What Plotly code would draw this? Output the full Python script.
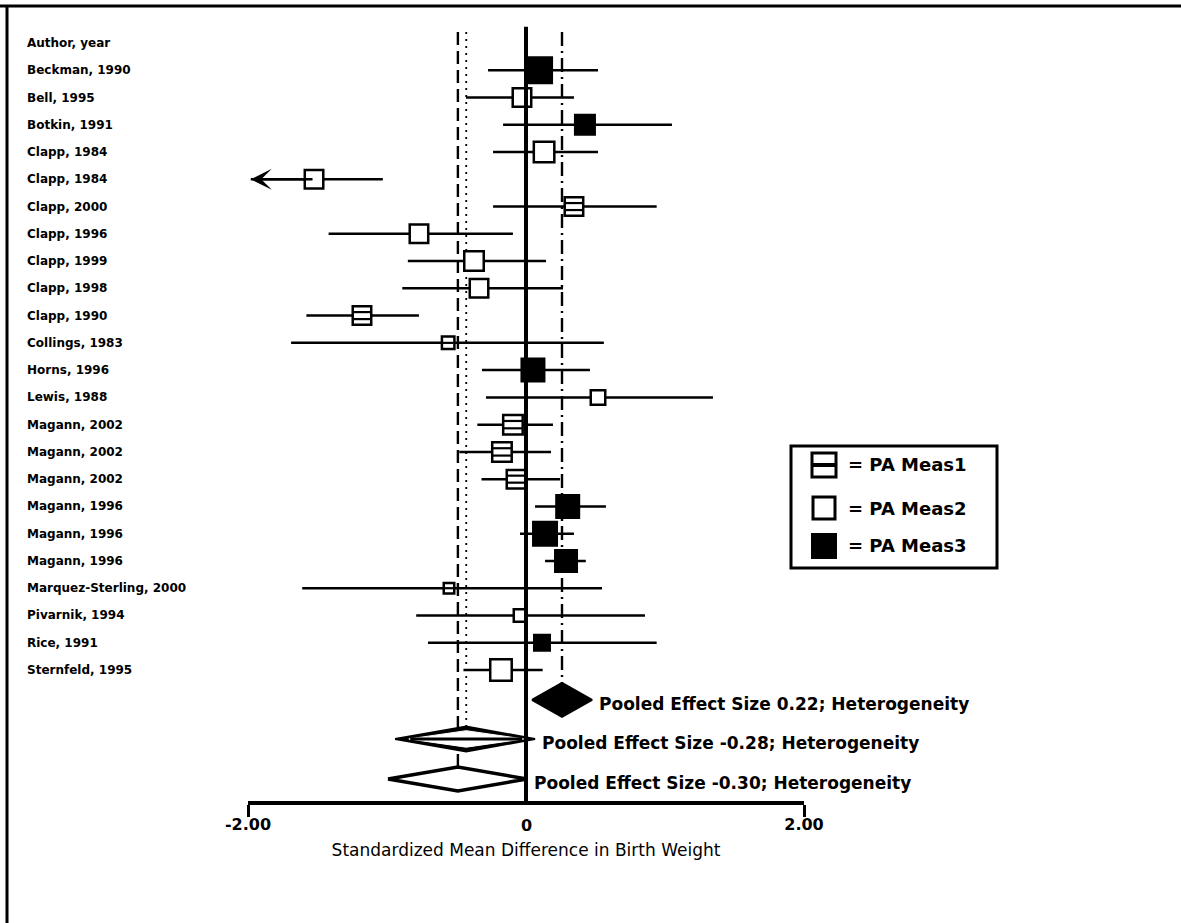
import plotly.graph_objects as go

# ---------------- data ----------------
studies = ["Beckman, 1990", "Bell, 1995", "Botkin, 1991", "Clapp, 1984", "Clapp, 1984",
           "Clapp, 2000", "Clapp, 1996", "Clapp, 1999", "Clapp, 1998", "Clapp, 1990",
           "Collings, 1983", "Horns, 1996", "Lewis, 1988", "Magann, 2002", "Magann, 2002",
           "Magann, 2002", "Magann, 1996", "Magann, 1996", "Magann, 1996",
           "Marquez-Sterling, 2000", "Pivarnik, 1994", "Rice, 1991", "Sternfeld, 1995"]
measure = [3, 2, 3, 2, 2, 1, 2, 2, 2, 1, 1, 3, 2, 1, 1, 1, 3, 3, 3, 1, 2, 3, 2]
effect = [0.094, -0.029, 0.424, 0.13, -1.525, 0.345, -0.77, -0.374, -0.338, -1.18,
          -0.56, 0.05, 0.518, -0.094, -0.173, -0.072, 0.30, 0.137, 0.288, -0.554,
          -0.043, 0.115, -0.18]
ci_low = [-0.273, -0.432, -0.165, -0.237, -2.3, -0.237, -1.42, -0.85, -0.89, -1.58,
          -1.69, -0.317, -0.288, -0.35, -0.48, -0.32, 0.065, -0.043, 0.137, -1.61,
          -0.79, -0.705, -0.45]
ci_high = [0.518, 0.345, 1.05, 0.518, -1.03, 0.94, -0.094, 0.144, 0.266, -0.77,
           0.56, 0.46, 1.345, 0.194, 0.18, 0.245, 0.575, 0.345, 0.43, 0.547,
           0.856, 0.94, 0.12]
weight_box = [28, 21, 22, 23, 21, 21, 21, 22, 21, 21, 15, 25, 17, 22, 22, 21,
              25, 26, 24, 13, 15, 18, 24]

pooled_label = ["Pooled Effect Size 0.22; Heterogeneity",
                "Pooled Effect Size -0.28; Heterogeneity",
                "Pooled Effect Size -0.30; Heterogeneity"]
pooled_measure = [3, 1, 2]
pooled_center = [0.259, -0.43, -0.49]
pooled_low = [0.043, -0.942, -0.993]
pooled_high = [0.475, 0.065, 0.007]

legend_labels = ["= PA Meas1", "= PA Meas2", "= PA Meas3"]
tick_vals = [-2, 2]
tick_text = ["-2.00", "2.00"]
x_title = "Standardized Mean Difference in Birth Weight"
header = "Author, year"

# ---------------- layout geometry ----------------
W, H = 1181, 923
ML, MR, MT, MB = 248, 377, 5, 122
PW, PH = W - ML - MR, H - MT - MB
ROW0_PX, ROW_PX = 43, 27.26
Y_TOP = (MT - ROW0_PX) / ROW_PX
Y_BOT = (H - MB - ROW0_PX) / ROW_PX
X_MIN, X_MAX = -2, 2
pooled_rows = [24.1, 25.53, 27.0]
pooled_half_px = [17, 12.5, 12]
REF_TOP_ROW = -0.4
ZERO_TOP_ROW = -0.6
FONT = "DejaVu Sans"


def pxx(px):
    return (px - ML) / PW


def pxy(py):
    return (H - MB - py) / PH


rows = list(range(1, len(studies) + 1))
fig = go.Figure()

# confidence interval lines
xs, ys = [], []
for r, lo, hi in zip(rows, ci_low, ci_high):
    xs += [max(lo, -1.98), hi, None]
    ys += [r, r, None]
fig.add_trace(go.Scatter(x=xs, y=ys, mode="lines", line=dict(color="black", width=2.5),
                         hoverinfo="skip", showlegend=False))

# arrows for truncated intervals
for r, lo, e in zip(rows, ci_low, effect):
    if lo < X_MIN:
        fig.add_annotation(x=-1.98, y=r, ax=e, ay=r, xref="x", yref="y", axref="x", ayref="y",
                           showarrow=True, arrowhead=3, arrowsize=1.4, arrowwidth=2.5,
                           arrowcolor="black", text="")

# pooled diamonds
for i, (c, lo, hi, m, r, hp) in enumerate(zip(pooled_center, pooled_low, pooled_high,
                                              pooled_measure, pooled_rows, pooled_half_px)):
    h = hp / ROW_PX
    dx = [lo, c, hi, c, lo]
    dy = [r, r - h, r, r + h, r]
    if m == 3:
        fig.add_trace(go.Scatter(x=dx, y=dy, mode="lines", fill="toself", fillcolor="black",
                                 line=dict(color="black", width=2), hoverinfo="skip", showlegend=False))
    elif m == 2:
        fig.add_trace(go.Scatter(x=dx, y=dy, mode="lines", fill="toself", fillcolor="white",
                                 line=dict(color="black", width=3.5), hoverinfo="skip", showlegend=False))
    else:
        fig.add_trace(go.Scatter(x=dx, y=dy, mode="lines", fill="toself", fillcolor="black",
                                 line=dict(color="black", width=2), hoverinfo="skip", showlegend=False))
        hw = (hi - lo) / 2
        ix = [c - 0.82 * hw, c, c + 0.82 * hw, c, c - 0.82 * hw]
        iy = [r, r - 0.66 * h, r, r + 0.66 * h, r]
        fig.add_trace(go.Scatter(x=ix, y=iy, mode="lines", fill="toself", fillcolor="white",
                                 line=dict(color="white", width=1), hoverinfo="skip", showlegend=False))
        fig.add_trace(go.Scatter(x=[c - 0.8 * hw, c + 0.8 * hw], y=[r, r], mode="lines",
                                 line=dict(color="black", width=3), hoverinfo="skip", showlegend=False))
    fig.add_annotation(x=hi, y=r, xref="x", yref="y", text="<b>" + pooled_label[i] + "</b>",
                       showarrow=False, xanchor="left", yanchor="middle", xshift=5, yshift=-4,
                       font=dict(family=FONT, size=17, color="black"))

# study markers
for m, fill in [(1, "white"), (2, "white"), (3, "black")]:
    idx = [k for k in range(len(studies)) if measure[k] == m]
    fig.add_trace(go.Scatter(
        x=[effect[k] for k in idx], y=[rows[k] for k in idx], mode="markers",
        marker=dict(symbol="square", size=[weight_box[k] - 2.5 for k in idx], color=fill,
                    opacity=1, line=dict(color="black", width=2.5)),
        cliponaxis=False, hoverinfo="skip", showlegend=False))
    if m == 1:
        sx, sy, ss = [], [], []
        for k in idx:
            s = weight_box[k]
            if s >= 18:
                off = (s / 6.0) / ROW_PX
                sx += [effect[k], effect[k]]
                sy += [rows[k] - off, rows[k] + off]
                ss += [(s - 4) / 1.4, (s - 4) / 1.4]
            else:
                sx.append(effect[k]); sy.append(rows[k]); ss.append((s - 4) / 1.4)
        fig.add_trace(go.Scatter(x=sx, y=sy, mode="markers",
                                 marker=dict(symbol="line-ew", size=ss, color="black", opacity=1,
                                             line=dict(color="black", width=2.2)),
                                 cliponaxis=False, hoverinfo="skip", showlegend=False))

# reference lines
shapes = []
shapes.append(dict(type="line", xref="x", yref="y", x0=0, x1=0, y0=ZERO_TOP_ROW, y1=Y_BOT,
                   line=dict(color="black", width=4), layer="above"))
dash_of = {1: "2px,5px", 2: "13px,6px", 3: "14px,5px,2px,5px"}
width_of = {1: 1.8, 2: 2.4, 3: 2.4}
for c, m, r, hp in zip(pooled_center, pooled_measure, pooled_rows, pooled_half_px):
    shapes.append(dict(type="line", xref="x", yref="y", x0=c, x1=c, y0=REF_TOP_ROW,
                       y1=r - hp / ROW_PX, line=dict(color="black", width=width_of[m], dash=dash_of[m]),
                       layer="below"))

# outer frame (top and left)
shapes.append(dict(type="line", xref="paper", yref="paper", x0=pxx(0), x1=pxx(W), y0=pxy(6), y1=pxy(6),
                   line=dict(color="black", width=3)))
shapes.append(dict(type="line", xref="paper", yref="paper", x0=pxx(7), x1=pxx(7), y0=pxy(6), y1=pxy(H),
                   line=dict(color="black", width=3)))

# legend box
shapes.append(dict(type="rect", xref="paper", yref="paper", x0=pxx(791), x1=pxx(997),
                   y0=pxy(568), y1=pxy(446), line=dict(color="black", width=3), fillcolor="white"))
icon_cy = [465, 508, 546]
icon_half = [12, 11, 11.5]
icon_fill = ["white", "white", "black"]
icon_cx = 824
for i in range(3):
    shapes.append(dict(type="rect", xref="paper", yref="paper",
                       x0=pxx(icon_cx - icon_half[i]), x1=pxx(icon_cx + icon_half[i]),
                       y0=pxy(icon_cy[i] + icon_half[i]), y1=pxy(icon_cy[i] - icon_half[i]),
                       line=dict(color="black", width=3), fillcolor=icon_fill[i]))
    fig.add_annotation(x=pxx(846), y=pxy(icon_cy[i]), xref="paper", yref="paper",
                       text="<b>" + legend_labels[i] + "</b>", showarrow=False,
                       xanchor="left", yanchor="middle", font=dict(family=FONT, size=18, color="black"))
shapes.append(dict(type="line", xref="paper", yref="paper", x0=pxx(icon_cx - 11), x1=pxx(icon_cx + 11),
                   y0=pxy(icon_cy[0]), y1=pxy(icon_cy[0]), line=dict(color="black", width=4)))

# study labels
fig.add_annotation(x=pxx(25), y=0, xref="paper", yref="y", text="<b>" + header + "</b>",
                   showarrow=False, xanchor="left", yanchor="middle",
                   font=dict(family=FONT, size=12, color="black"))
for r, s in zip(rows, studies):
    fig.add_annotation(x=pxx(25), y=r, xref="paper", yref="y", text="<b>" + s + "</b>",
                       showarrow=False, xanchor="left", yanchor="middle",
                       font=dict(family=FONT, size=12, color="black"))

# zero tick label
fig.add_annotation(x=0, y=0, xref="x", yref="paper", text="<b>0</b>", showarrow=False,
                   xanchor="center", yanchor="top", yshift=-13,
                   font=dict(family=FONT, size=16, color="black"))

fig.update_layout(
    width=W, height=H, margin=dict(l=ML, r=MR, t=MT, b=MB),
    paper_bgcolor="white", plot_bgcolor="white", shapes=shapes, showlegend=False,
    xaxis=dict(range=[X_MIN, X_MAX], showgrid=False, zeroline=False, showline=True,
               linecolor="black", linewidth=4, ticks="outside", ticklen=12, tickwidth=3,
               tickcolor="black", tickvals=tick_vals, ticktext=["<b>%s</b>" % t for t in tick_text],
               tickfont=dict(family=FONT, size=16, color="black"), ticklabelstandoff=-6,
               title=dict(text=x_title, font=dict(family=FONT, size=17, color="black"), standoff=12)),
    yaxis=dict(range=[Y_BOT, Y_TOP], visible=False, showgrid=False, zeroline=False),
)

fig.write_html("out.html", config={"displayModeBar": False},
               post_script="document.body.style.margin='0';")
